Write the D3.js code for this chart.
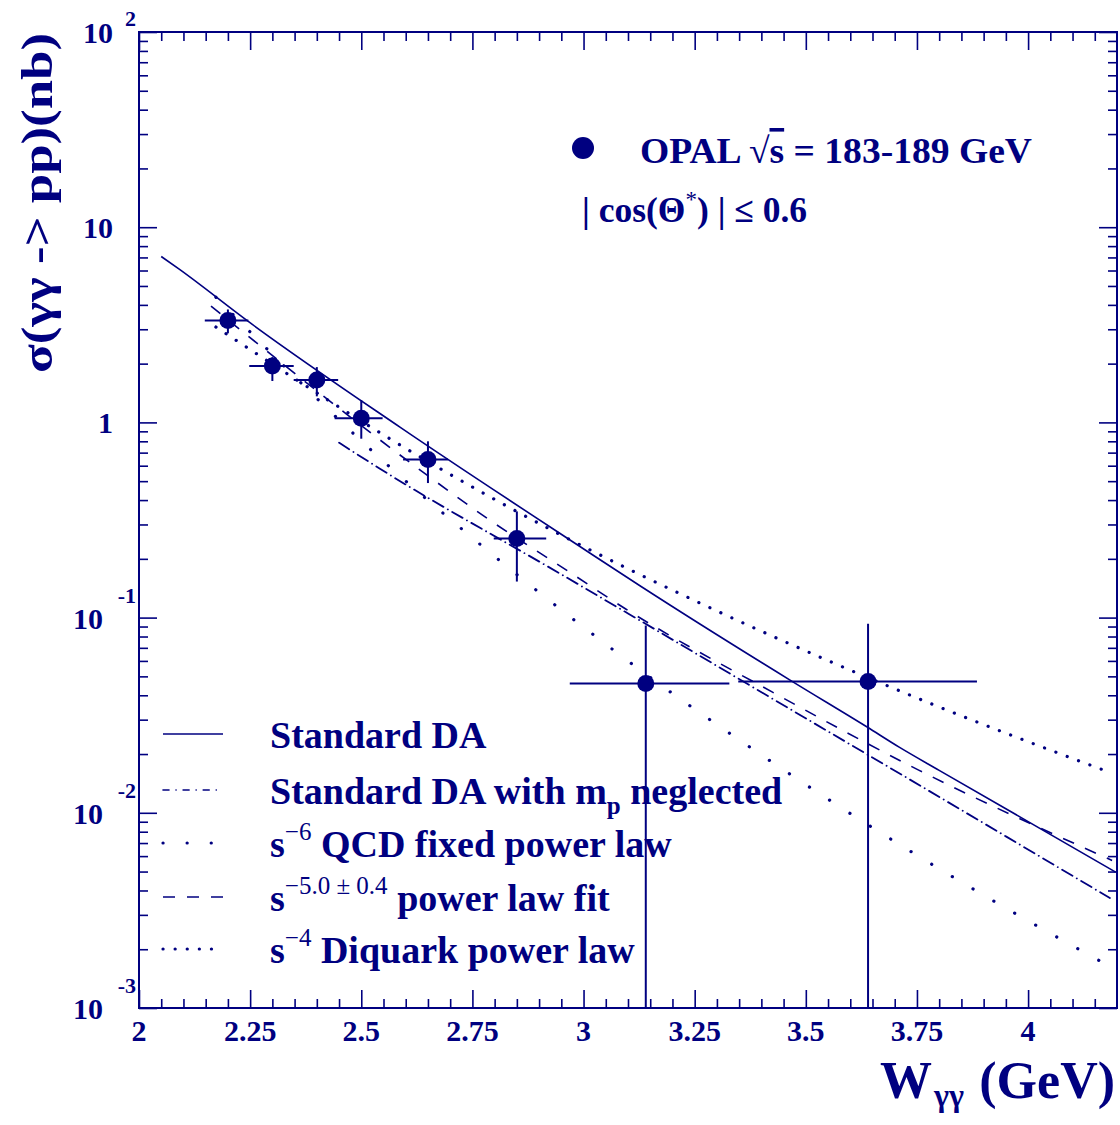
<!DOCTYPE html>
<html>
<head>
<meta charset="utf-8">
<script src="https://cdn.jsdelivr.net/npm/d3@7"></script>
<style>
  body { margin: 0; background: #fff; }
  svg { display: block; }
  text { font-family: "Liberation Serif", "Times New Roman", serif; font-weight: bold; fill: #000080; }
</style>
</head>
<body>
<svg width="1120" height="1125"></svg>
<script>
// OPAL data points
const dataW = [2.2, 2.3, 2.4, 2.5, 2.65, 2.85, 3.14, 3.64];
const dataSigma = [3.33, 1.945, 1.65, 1.05, 0.646, 0.254, 0.046, 0.047];
const dataUp = [3.79, 2.16, 1.92, 1.30, 0.80, 0.35, 0.091, 0.093];
const dataLow = [2.86, 1.63, 1.36, 0.825, 0.489, 0.153, 0, 0];
const binLo = [2.148, 2.248, 2.348, 2.44, 2.594, 2.798, 2.969, 3.348];
const binHi = [2.246, 2.348, 2.448, 2.548, 2.695, 2.916, 3.328, 3.885];

// curves
const stdW = [2.05, 2.092, 2.245, 2.587, 2.991, 3.126, 3.47, 3.638, 3.71, 3.80, 4.197];
const stdSigma = [7.08, 6.06, 3.30, 0.946, 0.232, 0.146, 0.047, 0.0275, 0.0217, 0.0165, 0.00497];

const mpW = [2.45, 2.542, 2.957, 3.1, 3.431, 3.715, 3.951, 4.184];
const mpSigma = [0.787, 0.579, 0.163, 0.105, 0.0377, 0.0157, 0.00755, 0.00366];

const qcdW = [2.173, 2.566, 2.732, 2.901, 3.032, 3.163, 3.369, 3.551, 3.736, 3.972, 4.164];
const qcdSigma = [4.38, 0.586, 0.277, 0.134, 0.0785, 0.047, 0.0221, 0.0117, 0.00634, 0.00304, 0.00173];

const fitW = [2.162, 2.6465, 2.781, 2.965, 3.094, 3.425, 3.755, 4.189];
const fitSigma = [3.94, 0.54, 0.325, 0.173, 0.111, 0.0415, 0.0165, 0.0057];

const diqW = [2.173, 2.684, 2.924, 3.12, 3.244, 3.55, 3.778, 4.184];
const diqSigma = [3.08, 0.568, 0.284, 0.169, 0.124, 0.0602, 0.0365, 0.0161];

// ticks
const xMajor = [2, 2.25, 2.5, 2.75, 3, 3.25, 3.5, 3.75, 4];
const xTickLabels = ['2', '2.25', '2.5', '2.75', '3', '3.25', '3.5', '3.75', '4'];
const yMajor = [1e-3, 1e-2, 1e-1, 1, 10, 100];
const yTickBase = ['10', '10', '10', '1', '10', '10'];
const yTickExp = ['-3', '-2', '-1', '', '', '2'];

const navy = '#000080';
const svg = d3.select('svg');

const x = d3.scaleLinear().domain([2, 4.2]).range([139, 1117]);
const y = d3.scaleLog().domain([1e-3, 1e2]).range([1008, 32]);

const xMinor = d3.range(0, 45).map(i => 2 + i * 0.05)
    .filter(v => v < 4.2 && !xMajor.some(m => Math.abs(m - v) < 1e-6));
const yMinor = [];
[-3, -2, -1, 0, 1].forEach(d => { for (let m = 2; m <= 9; m++) yMinor.push(m * Math.pow(10, d)); });

// clip for the plot area
svg.append('clipPath').attr('id', 'plot')
  .append('rect').attr('x', 139).attr('y', 32).attr('width', 978).attr('height', 976);

// ticks on all four sides
const tickStyle = g => {
    g.select('.domain').remove();
    g.selectAll('text').remove();
    g.selectAll('line').attr('stroke', navy).attr('stroke-width', 1.6);
};
const addAxis = (gen, tr) => svg.append('g').attr('transform', tr).call(gen).call(tickStyle);

addAxis(d3.axisBottom(x).tickValues(xMajor).tickSize(-18), 'translate(0,1008)');
addAxis(d3.axisBottom(x).tickValues(xMinor).tickSize(-9), 'translate(0,1008)');
addAxis(d3.axisTop(x).tickValues(xMajor).tickSize(-18), 'translate(0,32)');
addAxis(d3.axisTop(x).tickValues(xMinor).tickSize(-9), 'translate(0,32)');
addAxis(d3.axisLeft(y).tickValues(yMajor).tickSize(-18), 'translate(139,0)');
addAxis(d3.axisLeft(y).tickValues(yMinor).tickSize(-9), 'translate(139,0)');
addAxis(d3.axisRight(y).tickValues(yMajor).tickSize(-18), 'translate(1117,0)');
addAxis(d3.axisRight(y).tickValues(yMinor).tickSize(-9), 'translate(1117,0)');

// frame
svg.append('rect').attr('x', 139).attr('y', 32).attr('width', 978).attr('height', 976)
    .attr('fill', 'none').attr('stroke', navy).attr('stroke-width', 2);

// tick labels
svg.append('g').selectAll('text').data(xMajor).enter().append('text')
    .attr('x', d => x(d)).attr('y', 1041)
    .attr('text-anchor', 'middle').attr('font-size', 30)
    .text((d, i) => xTickLabels[i]);

yMajor.forEach((v, i) => {
    const exp = yTickExp[i];
    const neg = exp.startsWith('-');
    svg.append('text')
        .attr('x', neg ? 103 : 113).attr('y', y(v) + 11)
        .attr('text-anchor', 'end').attr('font-size', 30)
        .text(yTickBase[i]);
    if (exp) {
        svg.append('text')
            .attr('x', 136).attr('y', y(v) - (neg ? 15 : 6))
            .attr('text-anchor', 'end').attr('font-size', 22)
            .text(exp);
    }
});

// curves
const line = d3.line().x(d => x(d[0])).y(d => y(d[1])).curve(d3.curveMonotoneX);
const curves = svg.append('g').attr('clip-path', 'url(#plot)');
const styles = {
    std: { dash: null, w: 1.6, cap: 'butt' },
    mp: { dash: '12,5,0.1,5', w: 1.8, cap: 'round' },
    qcd: { dash: '0.1,24', w: 3.2, cap: 'round' },
    fit: { dash: '12,12', w: 1.6, cap: 'butt' },
    diq: { dash: '0.1,12', w: 3.2, cap: 'round' }
};
const drawCurve = (ws, ss, st) => curves.append('path')
    .attr('d', line(d3.zip(ws, ss)))
    .attr('fill', 'none').attr('stroke', navy)
    .attr('stroke-width', st.w).attr('stroke-linecap', st.cap)
    .attr('stroke-dasharray', st.dash);

drawCurve(stdW, stdSigma, styles.std);
drawCurve(mpW, mpSigma, styles.mp);
drawCurve(qcdW, qcdSigma, styles.qcd);
drawCurve(fitW, fitSigma, styles.fit);
drawCurve(diqW, diqSigma, styles.diq);

// data points with error bars
const pts = dataW.map((w, i) => ({ w, s: dataSigma[i], up: dataUp[i], low: dataLow[i], lo: binLo[i], hi: binHi[i] }));
const pg = svg.append('g').attr('clip-path', 'url(#plot)');
pg.selectAll('.hbar').data(pts).enter().append('line')
    .attr('x1', d => x(d.lo)).attr('x2', d => x(d.hi))
    .attr('y1', d => y(d.s)).attr('y2', d => y(d.s))
    .attr('stroke', navy).attr('stroke-width', 2);
pg.selectAll('.vbar').data(pts).enter().append('line')
    .attr('x1', d => x(d.w)).attr('x2', d => x(d.w))
    .attr('y1', d => y(d.up)).attr('y2', d => y(Math.max(d.low, 1e-3)))
    .attr('stroke', navy).attr('stroke-width', 2);
pg.selectAll('circle').data(pts).enter().append('circle')
    .attr('cx', d => x(d.w)).attr('cy', d => y(d.s)).attr('r', 8.5)
    .attr('fill', navy);

// annotation
svg.append('circle').attr('cx', 583).attr('cy', 148).attr('r', 11).attr('fill', navy);
const opal = svg.append('text').attr('x', 640).attr('y', 163).attr('font-size', 36)
    .attr('textLength', 392).attr('lengthAdjust', 'spacingAndGlyphs');
opal.append('tspan').text('OPAL √');
opal.append('tspan').style('text-decoration', 'overline').text('s');
opal.append('tspan').text(' = 183-189 GeV');

const cos = svg.append('text').attr('x', 582).attr('y', 222).attr('font-size', 35.5);
cos.append('tspan').text('| cos(Θ');
cos.append('tspan').attr('font-size', 23).attr('font-weight', 'normal').attr('dy', -15).text('*');
cos.append('tspan').attr('dy', 15).text(') | ≤ 0.6');

// legend
const legRows = [734, 790, 843, 897, 949];
const legStyles = [styles.std, { dash: '6,7,0.1,7', w: 1.6, cap: 'round' }, styles.qcd, styles.fit, styles.diq];
legRows.forEach((ly, i) => {
    const st = legStyles[i];
    svg.append('line').attr('x1', 163).attr('x2', 223).attr('y1', ly).attr('y2', ly)
        .attr('stroke', navy).attr('stroke-width', st.w).attr('stroke-linecap', st.cap)
        .attr('stroke-dasharray', st.dash);
});
const legText = (i) => svg.append('text').attr('x', 270).attr('y', legRows[i] + 14).attr('font-size', 38);
legText(0).text('Standard DA');
const l1 = legText(1);
l1.append('tspan').text('Standard DA with m');
l1.append('tspan').attr('font-size', 25).attr('dy', 10).text('p');
l1.append('tspan').attr('dy', -10).text(' neglected');
const supRow = (i, sup, rest) => {
    const t = legText(i);
    t.append('tspan').text('s');
    t.append('tspan').attr('font-size', 25).attr('font-weight', 'normal').attr('dy', -17).text(sup);
    t.append('tspan').attr('dy', 17).text(rest);
};
supRow(2, '−6', ' QCD fixed power law');
supRow(3, '−5.0 ± 0.4', ' power law fit');
supRow(4, '−4', ' Diquark power law');

// axis titles
svg.append('text').attr('x', 880).attr('y', 1098).attr('font-size', 52).text('W');
svg.append('text').attr('x', 934).attr('y', 1106).attr('font-size', 32).attr('font-weight', 'normal').text('γγ');
svg.append('text').attr('x', 1115).attr('y', 1098).attr('text-anchor', 'end').attr('font-size', 52).text('(GeV)');

svg.append('text')
    .attr('transform', 'translate(52,203) rotate(-90)')
    .attr('text-anchor', 'middle').attr('font-size', 44)
    .attr('textLength', 340).attr('lengthAdjust', 'spacingAndGlyphs')
    .text('σ(γγ -> pp)(nb)');
</script>
</body>
</html>
